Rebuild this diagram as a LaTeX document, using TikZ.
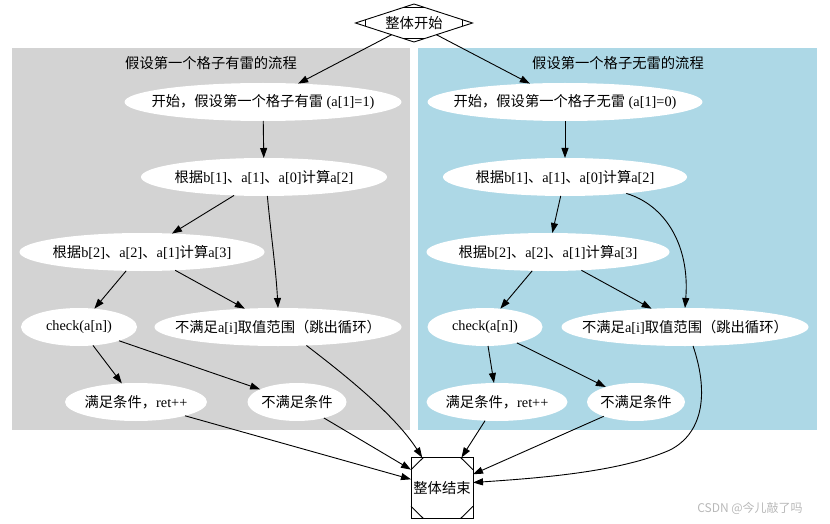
\documentclass[tikz,border=0pt]{standalone}
\usepackage{fontspec}
\setmainfont{Liberation Serif}
\newfontfamily\cjk{Noto Sans CJK SC}
\usetikzlibrary{shapes.geometric,arrows.meta,calc}
\definecolor{clgray}{HTML}{D3D3D3}
\definecolor{clblue}{HTML}{ADD8E6}
\newcommand{\zw}[1]{\makebox[0pt][c]{#1}}
\begin{document}
\begin{tikzpicture}[x=1pt,y=-1pt,
  every node/.style={font=\fontsize{14.3}{16}\selectfont, text=black},
  ell/.style={ellipse, fill=white, inner sep=0pt, outer sep=0pt, minimum height=38pt},
  conn/.style={-{Triangle[length=10pt,width=7pt]}, line width=0.9pt, black},
  deco/.style={line width=0.9pt, black}]
\useasboundingbox (0,0) rectangle (830,524);
% clusters
\fill[clgray] (12,48) rectangle (410,430);
\fill[clblue] (418,48) rectangle (817,430);
\node (cl) at (211,63) {\cjk 假设第一个格子有雷的流程};
\node (cr) at (618,63) {\cjk 假设第一个格子无雷的流程};
% start / end
\node[draw, diamond, aspect=3, minimum width=117pt, minimum height=38pt, inner sep=0pt, outer sep=0pt, line width=0.9pt] (S) at (414,23) {\zw{\cjk 整体开始}};
\draw[deco] ($(S.west)!0.17!(S.north)$) -- ($(S.west)!0.17!(S.south)$);
\draw[deco] ($(S.east)!0.17!(S.north)$) -- ($(S.east)!0.17!(S.south)$);
\draw[deco] ($(S.north)!0.17!(S.west)$) -- ($(S.north)!0.17!(S.east)$);
\draw[deco] ($(S.south)!0.17!(S.west)$) -- ($(S.south)!0.17!(S.east)$);
\node[draw, rectangle, minimum width=62pt, minimum height=61pt, inner sep=0pt, outer sep=0pt, line width=0.9pt] (E) at (442,488) {\cjk 整体结束};
\draw[deco] ($(E.north west)!0.2!(E.north east)$) -- ($(E.north west)!0.2!(E.south west)$);
\draw[deco] ($(E.north east)!0.2!(E.north west)$) -- ($(E.north east)!0.2!(E.south east)$);
\draw[deco] ($(E.south west)!0.2!(E.south east)$) -- ($(E.south west)!0.2!(E.north west)$);
\draw[deco] ($(E.south east)!0.2!(E.south west)$) -- ($(E.south east)!0.2!(E.north east)$);
% left nodes
\node[ell, minimum width=277pt] (L1) at (263,102) {\zw{{\cjk 开始，假设第一个格子有雷} (a[1]=1)}};
\node[ell, minimum width=246pt] (L2) at (264,177) {\zw{{\cjk 根据}b[1]{\cjk 、}a[1]{\cjk 、}a[0]{\cjk 计算}a[2]}};
\node[ell, minimum width=245pt] (L3) at (142,252) {\zw{{\cjk 根据}b[2]{\cjk 、}a[2]{\cjk 、}a[1]{\cjk 计算}a[3]}};
\node[ell, minimum width=116pt] (L4) at (79,327) {\zw{check(a[n])}};
\node[ell, minimum width=247pt] (L5) at (278,327) {\zw{{\cjk 不满足}a[i]{\cjk 取值范围（跳出循环）}}};
\node[ell, minimum width=142pt] (L6) at (136,402) {\zw{{\cjk 满足条件，}ret++}};
\node[ell, minimum width=99pt] (L7) at (297,402) {\zw{\cjk 不满足条件}};
% right nodes
\node[ell, minimum width=275pt] (R1) at (565,102) {\zw{{\cjk 开始，假设第一个格子无雷} (a[1]=0)}};
\node[ell, minimum width=244pt] (R2) at (565,177) {\zw{{\cjk 根据}b[1]{\cjk 、}a[1]{\cjk 、}a[0]{\cjk 计算}a[2]}};
\node[ell, minimum width=243pt] (R3) at (548,252) {\zw{{\cjk 根据}b[2]{\cjk 、}a[2]{\cjk 、}a[1]{\cjk 计算}a[3]}};
\node[ell, minimum width=115pt] (R4) at (485,327) {\zw{check(a[n])}};
\node[ell, minimum width=247pt] (R5) at (685,327) {\zw{{\cjk 不满足}a[i]{\cjk 取值范围（跳出循环）}}};
\node[ell, minimum width=141pt] (R6) at (497,402) {\zw{{\cjk 满足条件，}ret++}};
\node[ell, minimum width=98pt] (R7) at (636,402) {\zw{\cjk 不满足条件}};
% watermark
\node[font=\fontsize{12}{14}\selectfont, text=black!28, inner sep=0pt] (wm) at (750,508) {\cjk CSDN @今儿敲了吗};
% edges
\draw[conn] (S) -- (L1);
\draw[conn] (S) -- (R1);
\draw[conn] (L1) -- (L2);
\draw[conn] (L2) -- (L3);
\draw[conn] (L2.-80) .. controls (271,235) and (276,270) .. (L5.north);
\draw[conn] (L3) -- (L4);
\draw[conn] (L3) -- (L5);
\draw[conn] (L4) -- (L6);
\draw[conn] (L4) -- (L7);
\draw[conn] (L5.-33) .. controls (345,375) and (395,415) .. ($(E.north west)!0.18!(E.north east)$);
\draw[conn] (L6) -- (E);
\draw[conn] (L7) -- (E);
\draw[conn] (R1) -- (R2);
\draw[conn] (R2) -- (R3);
\draw[conn] (R2.-15) .. controls (665,205) and (690,245) .. (R5.north);
\draw[conn] (R3) -- (R4);
\draw[conn] (R3) -- (R5);
\draw[conn] (R4) -- (R6);
\draw[conn] (R4) -- (R7);
\draw[conn] (R5.-67) .. controls (708,390) and (705,432) .. (670,450) .. controls (620,472) and (540,478) .. (E.10);
\draw[conn] (R6) -- (E);
\draw[conn] (R7) -- (E);
\end{tikzpicture}
\end{document}
